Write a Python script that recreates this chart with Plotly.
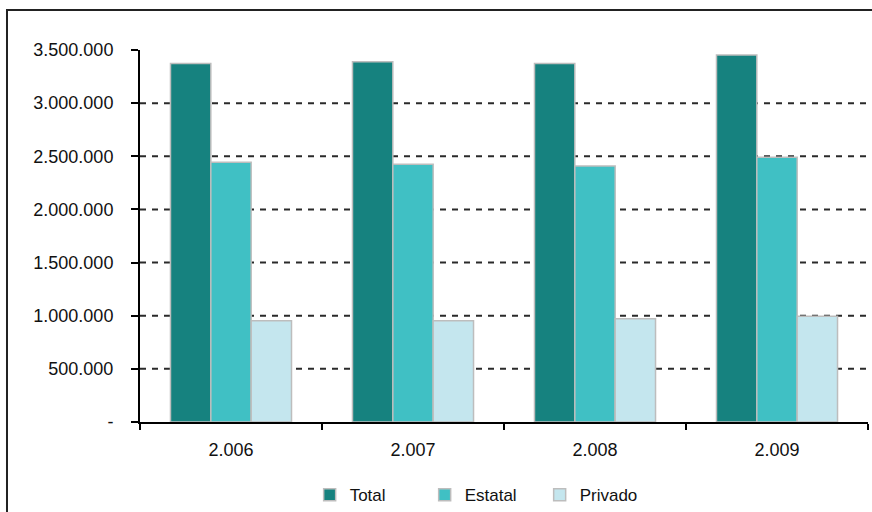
import plotly.graph_objects as go

years = ["2.006", "2.007", "2.008", "2.009"]
total = [3374000, 3389000, 3374000, 3452000]
estatal = [2444000, 2425000, 2409000, 2490000]
privado = [952000, 952000, 971000, 996000]

tick_vals = [0, 500000, 1000000, 1500000, 2000000, 2500000, 3000000, 3500000]
tick_text = ["-", "500.000", "1.000.000", "1.500.000", "2.000.000",
             "2.500.000", "3.000.000", "3.500.000"]
grid_vals = [500000, 1000000, 1500000, 2000000, 2500000, 3000000]

series = [
    ("Total", total, "#16827F"),
    ("Estatal", estatal, "#40C0C4"),
    ("Privado", privado, "#C4E6EE"),
]

FONT = "Liberation Sans, Arial, sans-serif"

fig = go.Figure()
for name, vals, color in series:
    fig.add_trace(go.Bar(
        name=name, x=years, y=vals,
        marker=dict(color=color, line=dict(color="#BDBDBD", width=1.5)),
    ))

shapes = []
for v in grid_vals:
    shapes.append(dict(type="line", xref="paper", yref="y", x0=0, x1=1, y0=v, y1=v,
                       line=dict(color="#2a2a2a", width=2, dash="6px,6px"), layer="below"))
# outer chart frame
shapes.append(dict(type="rect", xref="paper", yref="paper", x0=-0.1827, x1=1.03,
                   y0=-0.3, y1=1.1075, line=dict(color="#222222", width=2),
                   fillcolor="rgba(0,0,0,0)", layer="below"))

fig.update_layout(
    width=872, height=512,
    margin=dict(l=140, r=4, t=50, b=90, autoexpand=False),
    paper_bgcolor="white", plot_bgcolor="white",
    barmode="group", bargap=0.335, bargroupgap=0,
    font=dict(family=FONT, size=17, color="#111111"),
    shapes=shapes,
    showlegend=True,
    legend=dict(orientation="h", x=0.47, xanchor="center",
                yref="container", y=0.033, yanchor="middle",
                font=dict(size=17), entrywidth=70, entrywidthmode="pixels",
                itemwidth=30, traceorder="normal"),
    xaxis=dict(showline=True, linecolor="black", linewidth=2, ticks="outside",
               tickson="boundaries", ticklen=6, tickwidth=2, tickcolor="black",
               tickfont=dict(size=18), showgrid=False, ticklabelstandoff=10,
               automargin=False),
    yaxis=dict(range=[0, 3500000], tickvals=tick_vals, ticktext=tick_text,
               showline=True, linecolor="black", linewidth=2, ticks="outside",
               ticklen=7, tickwidth=2, tickcolor="black", showgrid=False,
               zeroline=False, tickfont=dict(size=18), ticklabelstandoff=14,
               automargin=False),
)

fig.write_html("out.html", config={"displayModeBar": False},
               post_script="document.body.style.margin='0';document.body.style.overflow='hidden';")
